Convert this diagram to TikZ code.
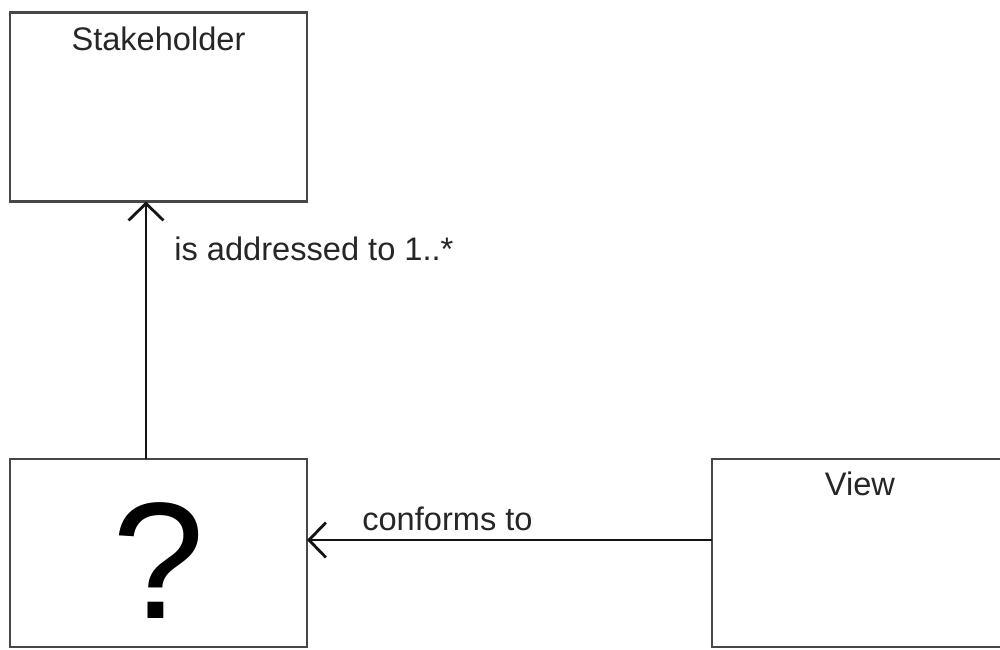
\documentclass[tikz,border=0pt]{standalone}
\usepackage{fontspec}
\setmainfont{Liberation Sans}
\usetikzlibrary{arrows.meta}
\definecolor{boxline}{HTML}{474747}
\definecolor{txt}{HTML}{262626}
\begin{document}
\begin{tikzpicture}[x=1pt,y=-1pt,
  box/.style={draw=boxline, line width=2.8pt, rectangle, inner sep=0pt, outer sep=0pt, fill=white},
  conn/.style={draw=black!92, line width=2.8pt, -{Straight Barb[length=17pt,width=35pt,line width=2.8pt]}},
  lbl/.style={font=\fontsize{32.6}{39}\selectfont, text=txt, inner sep=0pt}]
\useasboundingbox (0,0) rectangle (1000,649);
\clip (0,0) rectangle (1000,649);
\fill[white] (0,0) rectangle (1000,649);
\node[box, minimum width=297pt, minimum height=189pt] (sh) at (158.5,107) {};
\node[box, minimum width=297pt, minimum height=188pt] (q) at (158.5,553) {};
\node[box, minimum width=318pt, minimum height=188pt] (view) at (871,553) {};
\node[lbl, anchor=base] (sht) at ([yshift=-37.5pt]sh.north) {Stakeholder};
\node[lbl, anchor=base] (vt) at ([xshift=-11pt, yshift=-36pt]view.north) {View};
\node[inner sep=0pt, anchor=base, font=\fontsize{166}{170}\selectfont] (qm) at ([yshift=-65pt]q.center) {?};
\draw[conn] ([xshift=-12.5pt]q.north) -- ([xshift=-12.5pt]sh.south)
  node[lbl, pos=0.771, anchor=base west, xshift=27pt] (l1) {is addressed to 1..*};
\draw[conn] ([yshift=13pt]view.west) -- ([yshift=13pt]q.east)
  node[lbl, pos=0.867, anchor=base west, yshift=10pt] (l2) {conforms to};
\end{tikzpicture}
\end{document}
